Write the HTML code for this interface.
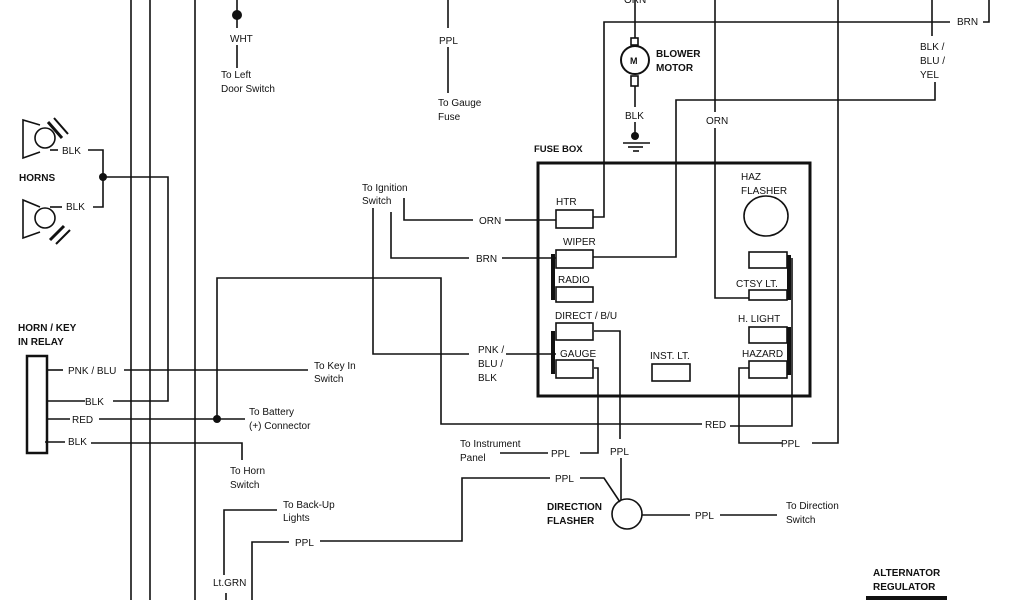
<!DOCTYPE html>
<html><head><meta charset="utf-8"><style>
html,body{margin:0;padding:0;background:#fff;width:1024px;height:600px;overflow:hidden}
text{font-family:"Liberation Sans",sans-serif;font-size:10px;fill:#111}
.b{font-weight:bold}
</style></head><body>
<svg width="1024" height="600" viewBox="0 0 1024 600" xmlns="http://www.w3.org/2000/svg">
<g stroke="#111" stroke-width="1.6" fill="none">
<!-- long left verticals -->
<line x1="131" y1="0" x2="131" y2="600"/>
<line x1="150" y1="0" x2="150" y2="600"/>
<line x1="195" y1="0" x2="195" y2="600"/>
<!-- horns -->
<polyline points="40,125 23,120 23,158 40,152"/>
<circle cx="45" cy="138" r="10"/>
<line x1="50" y1="150" x2="58" y2="150"/>
<polyline points="88,150 103,150 103,207 93,207"/>
<polyline points="40,207 23,200 23,238 40,232"/>
<circle cx="45" cy="218" r="10"/>
<line x1="50" y1="207" x2="62" y2="207"/>
<polyline points="103,177 168,177 168,401 113,401"/>
<!-- horn zaps -->
<line x1="48" y1="122" x2="62" y2="138" stroke-width="3"/>
<line x1="54" y1="118" x2="68" y2="134" stroke-width="2"/>
<line x1="50" y1="240" x2="64" y2="226" stroke-width="3"/>
<line x1="56" y1="244" x2="70" y2="230" stroke-width="2"/>
<!-- WHT -->
<line x1="237" y1="0" x2="237" y2="28"/>
<line x1="237" y1="45" x2="237" y2="68"/>
<!-- PPL gauge -->
<line x1="448" y1="0" x2="448" y2="28"/>
<line x1="448" y1="47" x2="448" y2="93"/>
<!-- ignition -->
<polyline points="373,208 373,354 469,354"/>
<polyline points="391,212 391,258 469,258"/>
<polyline points="404,198 404,220 473,220"/>
<line x1="505" y1="220" x2="556" y2="220"/>
<line x1="502" y1="258" x2="556" y2="258"/>
<line x1="506" y1="354" x2="556" y2="354"/>
<!-- 278 loop -->
<polyline points="217,419 217,278 441,278 441,424 702,424"/>
<polyline points="730,426 792,426 792,258"/>
<!-- relay -->
<rect x="27" y="356" width="20" height="97" stroke-width="2.5"/>
<line x1="47" y1="370" x2="63" y2="370"/>
<line x1="124" y1="370" x2="308" y2="370"/>
<line x1="47" y1="401" x2="85" y2="401"/>
<line x1="47" y1="419" x2="70" y2="419"/>
<line x1="99" y1="419" x2="245" y2="419"/>
<line x1="45" y1="442" x2="65" y2="442"/>
<polyline points="91,443 242,443 242,460"/>
<!-- backup -->
<polyline points="277,510 224,510 224,575"/>
<line x1="226" y1="593" x2="226" y2="600"/>
<polyline points="289,542 252,542 252,600"/>
<polyline points="320,541 462,541 462,478 550,478"/>
<polyline points="580,478 604,478 620,502"/>
<circle cx="627" cy="514" r="15"/>
<line x1="621" y1="458" x2="621" y2="500"/>
<polyline points="594,331 620,331 620,439"/>
<polyline points="594,368 598,368 598,453 580,453"/>
<line x1="500" y1="453" x2="548" y2="453"/>
<line x1="642" y1="515" x2="690" y2="515"/>
<line x1="720" y1="515" x2="777" y2="515"/>
<!-- fuse box -->
<rect x="538" y="163" width="272" height="233" stroke-width="3"/>
<rect x="556" y="210" width="37" height="18"/>
<rect x="556" y="250" width="37" height="18"/>
<rect x="556" y="287" width="37" height="15"/>
<rect x="556" y="323" width="37" height="17"/>
<rect x="556" y="360" width="37" height="18"/>
<rect x="652" y="364" width="38" height="17"/>
<rect x="749" y="252" width="38" height="16"/>
<rect x="749" y="290" width="38" height="10"/>
<rect x="749" y="327" width="38" height="16"/>
<rect x="749" y="361" width="38" height="17"/>
<ellipse cx="766" cy="216" rx="22" ry="20"/>
<line x1="553" y1="254" x2="553" y2="300" stroke-width="4"/>
<line x1="553" y1="331" x2="553" y2="374" stroke-width="4"/>
<line x1="789" y1="255" x2="789" y2="300" stroke-width="4"/>
<line x1="789" y1="327" x2="789" y2="375" stroke-width="4"/>
<!-- upper right wiring -->
<polyline points="593,217 604,217 604,22 950,22"/>
<polyline points="983,22 989,22 989,0"/>
<polyline points="715,0 715,112"/>
<polyline points="715,128 715,298 749,298"/>
<polyline points="838,0 838,443 812,443"/>
<polyline points="782,443 739,443 739,368 749,368"/>
<line x1="932" y1="0" x2="932" y2="36"/>
<polyline points="935,82 935,100 676,100 676,257 593,257"/>
<!-- blower -->
<line x1="635" y1="0" x2="635" y2="38"/>
<rect x="631" y="38" width="7" height="7"/>
<circle cx="635" cy="60" r="14" stroke-width="2"/>
<rect x="631" y="76" width="7" height="10"/>
<line x1="635" y1="86" x2="635" y2="107"/>
<line x1="635" y1="122" x2="635" y2="136"/>
<line x1="623" y1="143" x2="650" y2="143"/>
<line x1="628" y1="147" x2="643" y2="147"/>
<line x1="633" y1="151" x2="639" y2="151"/>
<line x1="866" y1="598" x2="947" y2="598" stroke-width="4"/>
</g>
<g fill="#111">
<circle cx="103" cy="177" r="4"/>
<circle cx="237" cy="15" r="5"/>
<circle cx="217" cy="419" r="4"/>
<circle cx="635" cy="136" r="4"/>
</g>
<text x="62" y="154">BLK</text>
<text x="66" y="210">BLK</text>
<text x="19" y="181" class="b">HORNS</text>
<text x="230" y="42">WHT</text>
<text x="221" y="78">To Left</text>
<text x="221" y="92">Door Switch</text>
<text x="439" y="44">PPL</text>
<text x="438" y="106">To Gauge</text>
<text x="438" y="120">Fuse</text>
<text x="362" y="191">To Ignition</text>
<text x="362" y="204">Switch</text>
<text x="479" y="224">ORN</text>
<text x="476" y="262">BRN</text>
<text x="478" y="353">PNK /</text>
<text x="478" y="367">BLU /</text>
<text x="478" y="381">BLK</text>
<text x="18" y="331" class="b">HORN / KEY</text>
<text x="18" y="345" class="b">IN RELAY</text>
<text x="68" y="374">PNK / BLU</text>
<text x="85" y="405">BLK</text>
<text x="72" y="423">RED</text>
<text x="68" y="445">BLK</text>
<text x="314" y="369">To Key In</text>
<text x="314" y="382">Switch</text>
<text x="249" y="415">To Battery</text>
<text x="249" y="429">(+) Connector</text>
<text x="230" y="474">To Horn</text>
<text x="230" y="488">Switch</text>
<text x="283" y="508">To Back-Up</text>
<text x="283" y="521">Lights</text>
<text x="295" y="546">PPL</text>
<text x="213" y="586">Lt.GRN</text>
<text x="460" y="447">To Instrument</text>
<text x="460" y="461">Panel</text>
<text x="551" y="457">PPL</text>
<text x="610" y="455">PPL</text>
<text x="555" y="482">PPL</text>
<text x="547" y="510" class="b">DIRECTION</text>
<text x="547" y="524" class="b">FLASHER</text>
<text x="695" y="519">PPL</text>
<text x="786" y="509">To Direction</text>
<text x="786" y="523">Switch</text>
<text x="705" y="428">RED</text>
<text x="781" y="447">PPL</text>
<text x="534" y="152" class="b" style="font-size:9.5px">FUSE BOX</text>
<text x="556" y="205">HTR</text>
<text x="563" y="245">WIPER</text>
<text x="558" y="283">RADIO</text>
<text x="555" y="319">DIRECT / B/U</text>
<text x="560" y="357">GAUGE</text>
<text x="650" y="359">INST. LT.</text>
<text x="741" y="180">HAZ</text>
<text x="741" y="194">FLASHER</text>
<text x="736" y="287">CTSY LT.</text>
<text x="738" y="322">H. LIGHT</text>
<text x="742" y="357">HAZARD</text>
<text x="624" y="3">ORN</text>
<text x="630" y="64" class="b" style="font-size:9px">M</text>
<text x="656" y="57" class="b">BLOWER</text>
<text x="656" y="71" class="b">MOTOR</text>
<text x="625" y="119">BLK</text>
<text x="706" y="124">ORN</text>
<text x="957" y="25">BRN</text>
<text x="920" y="50">BLK /</text>
<text x="920" y="64">BLU /</text>
<text x="920" y="78">YEL</text>
<text x="873" y="576" class="b">ALTERNATOR</text>
<text x="873" y="590" class="b">REGULATOR</text>
</svg>
</body></html>
